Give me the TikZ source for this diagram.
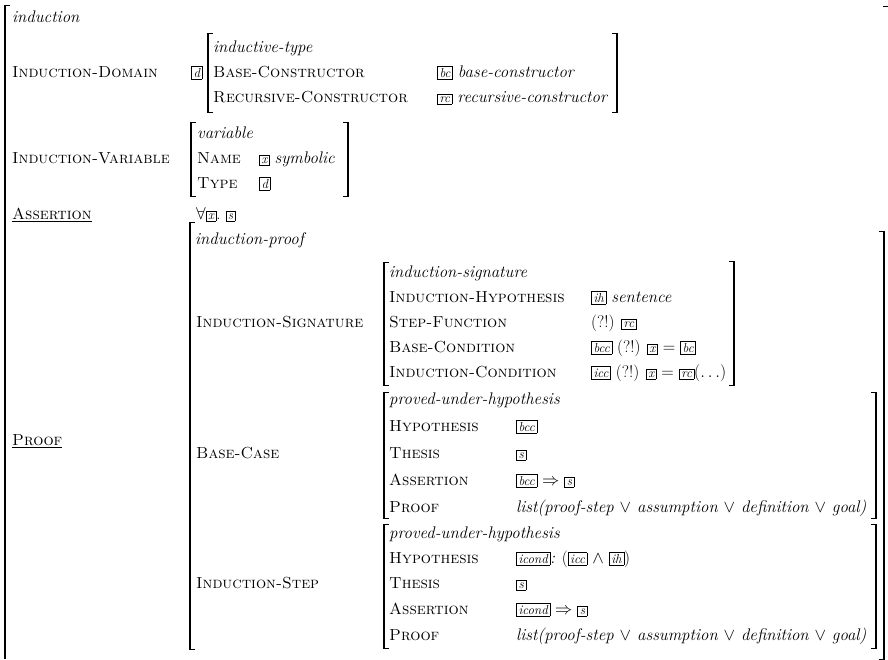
\documentclass[tikz,border=0pt]{standalone}
\usepackage{amsmath, amssymb}
\usepackage{tikz}
\usetikzlibrary{positioning}
\newcommand{\avmsize}{\fontsize{16}{19}\selectfont}
\newcommand{\avmitsize}{\fontsize{16.8}{19}\selectfont}
\newcommand{\tagbox}[1]{{\setlength{\fboxsep}{1.8pt}\setlength{\fboxrule}{0.5pt}\fbox{\fontsize{13}{13}\selectfont\itshape #1}}}
\newcommand{\avmleft}[3]{%
  \draw[brackline] (#1,#2) -- (#1,#3);
  \draw[bracktick] (#1-0.7,#2) -- (#1+5,#2);
  \draw[bracktick] (#1-0.7,#3) -- (#1+5,#3);}
\newcommand{\avmright}[3]{%
  \draw[brackline] (#1,#2) -- (#1,#3);
  \draw[bracktick] (#1+0.7,#2) -- (#1-5,#2);
  \draw[bracktick] (#1+0.7,#3) -- (#1-5,#3);}
\tikzset{
  typename/.style={anchor=base west, inner sep=0pt, font=\avmitsize\itshape},
  feature/.style={anchor=base west, inner sep=0pt, font=\avmsize\scshape},
  value/.style={anchor=base west, inner sep=0pt, font=\avmitsize},
  brackline/.style={line width=1.4pt},
  bracktick/.style={line width=0.6pt}
}

\begin{document}
\begin{tikzpicture}[x=1pt, y=-1pt]
  \useasboundingbox (0,0) rectangle (888,659);
  \draw[brackline] (5,5) -- (5,659);
  \draw[bracktick] (4.3,5) -- (10,5);
  \draw[bracktick] (883,6) -- (888,6);

  \node[typename] (ind) at (12,22) {induction};

  \node[feature] (domain) at (12,77) {Induction-Domain};
  \node[value] (dtag) at (191,77) {\tagbox{d}};
  \avmleft{208}{33}{112}
  \avmright{617}{33}{112}
  \node[typename] (indtype) at (213,52) {inductive-type};
  \node[feature] (basecons) at (213,77) {Base-Constructor};
  \node[value] (basecons-v) at (437,77) {\tagbox{bc} \textit{base-constructor}};
  \node[feature] (reccons) at (213,102) {Recursive-Constructor};
  \node[value] (reccons-v) at (437,102) {\tagbox{rc} \textit{recursive-constructor}};

  \node[feature] (var) at (12,163) {Induction-Variable};
  \avmleft{191}{122}{196}
  \avmright{348}{122}{196}
  \node[typename] (vartype) at (197,138) {variable};
  \node[feature] (name) at (197,163) {Name};
  \node[value] (name-v) at (259,163) {\tagbox{x} \textit{symbolic}};
  \node[feature] (type) at (197,188) {Type};
  \node[value] (type-v) at (259,188) {\tagbox{d}};

  \node[feature] (assert) at (12,219) {\underline{Assertion}};
  \node[value] (assert-v) at (196,219) {$\forall$\tagbox{x}.\ \tagbox{s}};

  \node[feature] (proof) at (12,445) {\underline{Proof}};
  \avmleft{190}{222}{649}
  \avmright{884}{231}{659}
  \node[typename] (prooftype) at (195,244) {induction-proof};

  \node[feature] (sig) at (196,327) {Induction-Signature};
  \avmleft{384}{262}{385}
  \avmright{734}{261}{385}
  \node[typename] (sigtype) at (389,277) {induction-signature};
  \node[feature] (ih) at (389,302) {Induction-Hypothesis};
  \node[value] (ih-v) at (591,302) {\tagbox{ih} \textit{sentence}};
  \node[feature] (stepfn) at (389,327) {Step-Function};
  \node[value] (stepfn-v) at (591,327) {(?!) \tagbox{rc}};
  \node[feature] (basecond) at (389,352) {Base-Condition};
  \node[value] (basecond-v) at (591,352) {\tagbox{bcc} (?!) \tagbox{x} $=$ \tagbox{bc}};
  \node[feature] (indcond) at (389,377) {Induction-Condition};
  \node[value] (indcond-v) at (591,377) {\tagbox{icc} (?!) \tagbox{x} $=$ \tagbox{rc}$(\ldots)$};

  \node[feature] (basecase) at (196,458) {Base-Case};
  \avmleft{384}{392}{518}
  \avmright{876}{392}{518}
  \node[typename] (bctype) at (389,404) {proved-under-hypothesis};
  \node[feature] (bchyp) at (389,431) {Hypothesis};
  \node[value] (bchyp-v) at (516,431) {\tagbox{bcc}};
  \node[feature] (bcthesis) at (389,458) {Thesis};
  \node[value] (bcthesis-v) at (516,458) {\tagbox{s}};
  \node[feature] (bcassert) at (389,485) {Assertion};
  \node[value] (bcassert-v) at (516,485) {\tagbox{bcc} $\Rightarrow$ \tagbox{s}};
  \node[feature] (bcproof) at (389,512) {Proof};
  \node[value] (bcproof-v) at (516,512) {\textit{list(proof-step $\vee$ assumption $\vee$ definition $\vee$ goal)}};

  \node[feature] (indstep) at (196,588) {Induction-Step};
  \avmleft{384}{524}{648}
  \avmright{876}{524}{648}
  \node[typename] (istype) at (389,538) {proved-under-hypothesis};
  \node[feature] (ishyp) at (389,563) {Hypothesis};
  \node[value] (ishyp-v) at (516,563) {\tagbox{icond}\textit{:} (\tagbox{icc} $\wedge$ \tagbox{ih})};
  \node[feature] (isthesis) at (389,588) {Thesis};
  \node[value] (isthesis-v) at (516,588) {\tagbox{s}};
  \node[feature] (isassert) at (389,614) {Assertion};
  \node[value] (isassert-v) at (516,614) {\tagbox{icond} $\Rightarrow$ \tagbox{s}};
  \node[feature] (isproof) at (389,640) {Proof};
  \node[value] (isproof-v) at (516,640) {\textit{list(proof-step $\vee$ assumption $\vee$ definition $\vee$ goal)}};
\end{tikzpicture}
\end{document}
